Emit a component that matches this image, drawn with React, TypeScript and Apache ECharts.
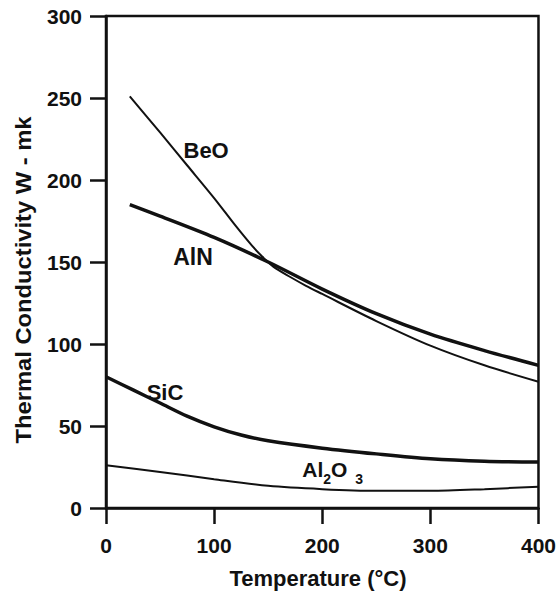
import React, { useEffect, useRef } from "react";
import * as echarts from "echarts";

const beoX = [22, 50, 75, 100, 120, 135, 145, 155, 170, 185, 200, 250, 300, 350, 400];
const beoY = [251, 229, 209, 189, 172, 160, 153, 147, 141, 135.5, 130.5, 114, 99, 87, 77];

const alnX = [22, 50, 100, 150, 200, 250, 300, 350, 400];
const alnY = [185, 178, 165, 150, 133.5, 118.5, 106, 96, 87];

const sicX = [0, 25, 50, 75, 100, 125, 150, 200, 250, 300, 350, 400];
const sicY = [80, 72, 64, 56, 49.5, 44.5, 41, 36.5, 33, 30, 28.5, 28];

const al2o3X = [0, 50, 100, 150, 200, 250, 300, 350, 400];
const al2o3Y = [26, 22, 17.5, 13.5, 11.5, 10.5, 10.5, 11.5, 13];

const xTicks = [0, 100, 200, 300, 400];
const yTicks = [0, 50, 100, 150, 200, 250, 300];

// label anchors in data coordinates
const labelBeO = [92.6, 218];
const labelAlN = [80.5, 153];
const labelSiC = [54.6, 70.7];
const labelAl2O3 = [181.5, 23];

const INK = "#111";
const FONT = "Liberation Sans, Arial, sans-serif";

function zip(xs: number[], ys: number[]) {
  return xs.map((x, i) => [x, ys[i]]);
}

export default function App() {
  const ref = useRef<HTMLDivElement>(null);
  useEffect(() => {
    document.body.style.margin = "0";
    const chart = echarts.init(ref.current!, null, { renderer: "svg" });
    const lineSeries = (name: string, xs: number[], ys: number[], w: number) => ({
      name,
      type: "line",
      data: zip(xs, ys),
      smooth: 0.3,
      showSymbol: false,
      symbol: "none",
      lineStyle: { color: INK, width: w },
    });
    chart.setOption({
      animation: false,
      backgroundColor: "#fff",
      grid: {
        left: 106,
        top: 16,
        right: 20,
        bottom: 90,
        show: true,
        borderColor: INK,
        borderWidth: 2.5,
      },
      xAxis: {
        type: "value",
        min: xTicks[0],
        max: xTicks[xTicks.length - 1],
        interval: 100,
        axisLine: { show: true, lineStyle: { color: INK, width: 2.5 } },
        axisTick: { show: true, length: 16, lineStyle: { color: INK, width: 2.5 } },
        axisLabel: {
          margin: 27,
          color: INK,
          fontSize: 21,
          fontWeight: "bold",
          fontFamily: FONT,
          formatter: (v: number) => (xTicks.includes(v) ? String(v) : ""),
        },
        splitLine: { show: false },
      },
      yAxis: {
        type: "value",
        min: yTicks[0],
        max: yTicks[yTicks.length - 1],
        interval: 50,
        axisLine: { show: true, lineStyle: { color: INK, width: 2.5 } },
        axisTick: { show: true, length: 16, lineStyle: { color: INK, width: 2.5 } },
        axisLabel: {
          margin: 24,
          color: INK,
          fontSize: 21,
          fontWeight: "bold",
          fontFamily: FONT,
        },
        splitLine: { show: false },
      },
      series: [
        lineSeries("BeO", beoX, beoY, 2),
        lineSeries("AlN", alnX, alnY, 3.5),
        lineSeries("SiC", sicX, sicY, 3.5),
        lineSeries("Al2O3", al2o3X, al2o3Y, 2),
      ],
    });

    const px = (p: number[]) => chart.convertToPixel({ gridIndex: 0 }, p) as number[];
    const txt = (text: string, p: number[], size = 22, align = "center") => ({
      type: "text",
      x: p[0],
      y: p[1],
      style: {
        text,
        fill: INK,
        font: `bold ${size}px ${FONT}`,
        textAlign: align,
        textVerticalAlign: "middle",
      },
    });
    const a = px(labelAl2O3);
    chart.setOption({
      graphic: [
        txt("BeO", px(labelBeO)),
        txt("AlN", px(labelAlN), 23),
        txt("SiC", px(labelSiC)),
        {
          type: "text",
          x: a[0],
          y: a[1] + 2,
          style: {
            text: "{b|Al}{s|2}{b|O}{g| }{s|3}",
            fill: INK,
            textAlign: "left",
            textVerticalAlign: "middle",
            rich: {
              b: {
                fontSize: 21,
                fontWeight: "bold",
                fontFamily: FONT,
                lineHeight: 22,
                verticalAlign: "top",
                fill: INK,
              },
              s: {
                fontSize: 14,
                fontWeight: "bold",
                fontFamily: FONT,
                lineHeight: 14,
                verticalAlign: "bottom",
                fill: INK,
              },
              g: {
                fontSize: 14,
                fontFamily: FONT,
                lineHeight: 27,
                verticalAlign: "top",
                width: 8,
                fill: INK,
              },
            },
          },
        },
        {
          type: "text",
          x: 318,
          y: 578,
          style: {
            text: "Temperature (°C)",
            fill: INK,
            font: `bold 22px ${FONT}`,
            textAlign: "center",
            textVerticalAlign: "middle",
          },
        },
        {
          type: "text",
          x: 23,
          y: 280,
          rotation: Math.PI / 2,
          scaleX: 1.08,
          style: {
            text: "Thermal Conductivity W - mk",
            fill: INK,
            font: `bold 22px ${FONT}`,
            textAlign: "center",
            textVerticalAlign: "middle",
          },
        },
      ],
    });
    return () => chart.dispose();
  }, []);
  return <div ref={ref} style={{ width: 559, height: 598 }} />;
}
